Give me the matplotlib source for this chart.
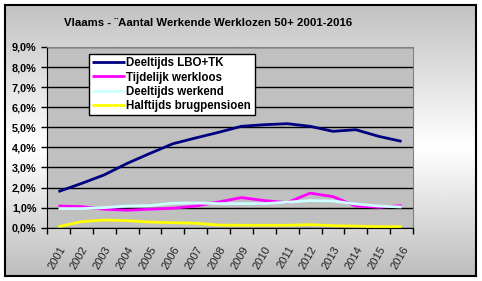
import numpy as np
import matplotlib
matplotlib.use("Agg")
import matplotlib.pyplot as plt

plt.rcParams['font.family'] = ['Liberation Sans', 'DejaVu Sans']

years = [str(y) for y in range(2001, 2017)]
lbo_tk = [1.80, 2.20, 2.63, 3.20, 3.70, 4.18, 4.47, 4.75, 5.05, 5.13, 5.18, 5.05, 4.80, 4.88, 4.55, 4.30]
tijdelijk = [1.08, 1.05, 0.92, 0.87, 0.92, 0.97, 1.08, 1.28, 1.50, 1.35, 1.25, 1.72, 1.55, 1.08, 1.02, 1.10]
deeltijds = [0.95, 0.95, 1.00, 1.08, 1.10, 1.22, 1.23, 1.20, 1.20, 1.20, 1.27, 1.35, 1.33, 1.18, 1.08, 1.03]
halftijds = [0.05, 0.30, 0.38, 0.35, 0.28, 0.25, 0.22, 0.13, 0.12, 0.12, 0.12, 0.15, 0.10, 0.08, 0.05, 0.05]

series = [
    ("Deeltijds LBO+TK", lbo_tk, "#000080"),
    ("Tijdelijk werkloos", tijdelijk, "#FF00FF"),
    ("Deeltijds werkend", deeltijds, "#CCFFFF"),
    ("Halftijds brugpensioen", halftijds, "#FFFF00"),
]

W, H = 482, 281
fig = plt.figure(figsize=(W / 100, H / 100), dpi=100)
fig.patch.set_facecolor('white')

# chart area background: vertical grey-white-grey gradient with black border
bg = fig.add_axes([5 / W, 5 / H, 471 / W, 271 / H], zorder=0)
t = np.linspace(0, 1, 200)
shade = np.interp(t, [0, 0.53, 1], [0.76, 1.0, 0.74])
bg.imshow(shade[:, None] * np.ones((1, 2)), cmap='gray', vmin=0, vmax=1,
          aspect='auto', extent=[0, 1, 0, 1], origin='upper')
bg.set_xticks([])
bg.set_yticks([])
for s in bg.spines.values():
    s.set_linewidth(1.5)
    s.set_color('black')

ax = fig.add_axes([47 / W, 1 - 227.7 / H, 366 / W, 180.7 / H], zorder=1)
ax.set_facecolor('#C0C0C0')

x = np.arange(len(years))
for name, vals, col in series:
    ax.plot(x, vals, color=col, lw=2, label=name, solid_capstyle='butt')

ax.set_xlim(-0.5, len(years) - 0.5)
ax.set_ylim(0, 9)
ax.set_yticks(range(0, 10))
ax.set_yticklabels(['{:.1f}%'.format(v).replace('.', ',') for v in range(0, 10)],
                   fontsize=7.8, fontweight='bold')
ax.yaxis.grid(True, color='black', lw=1)
ax.set_axisbelow(True)

ax.set_xticks(np.arange(-0.5, len(years), 1.0))
ax.set_xticklabels([])
ax.set_xticks(x, minor=True)
ax.set_xticklabels(years, minor=True, rotation=60, ha='right', va='top',
                   rotation_mode='anchor', fontsize=8, color='#222222')
ax.tick_params(axis='x', which='minor', length=0, pad=12)
ax.tick_params(axis='both', which='major', direction='out', length=4, width=1, color='black')

ax.spines['left'].set_color('black')
ax.spines['bottom'].set_color('black')
ax.spines['top'].set_color('#808080')
ax.spines['right'].set_color('#808080')

leg = ax.legend(loc='upper left', bbox_to_anchor=(42 / 366, 173.7 / 180.7),
                prop={'weight': 'bold', 'size': 8.3}, fancybox=False, framealpha=1,
                edgecolor='black', borderpad=0.3, labelspacing=0.18,
                handlelength=2.8, handletextpad=0.15, borderaxespad=0)
leg.get_frame().set_linewidth(1)

fig.text(208 / W, 1 - 22.5 / H, "Vlaams - \u00a8Aantal Werkende Werklozen 50+ 2001-2016",
         ha='center', va='center', fontsize=8.2, fontweight='bold')

fig.savefig('out.png', dpi=100)
